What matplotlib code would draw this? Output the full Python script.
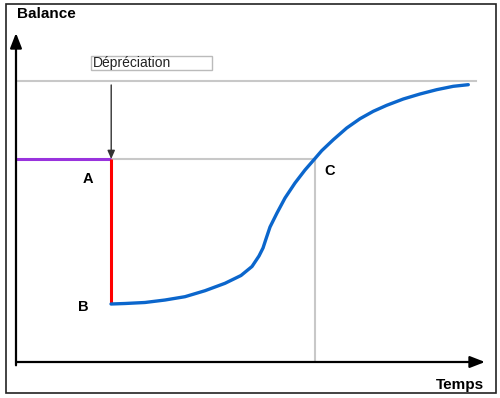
import matplotlib
matplotlib.use("Agg")
import matplotlib.pyplot as plt
from matplotlib.patches import Rectangle

plt.rcParams['font.family'] = ['Liberation Sans', 'DejaVu Sans']

# Data (time 0-100, balance 0-100)
t_shock = 20.3          # moment of depreciation (A/B)
level_A = 61.7          # initial balance
level_B = 17.6          # balance right after depreciation
level_top = 85.4        # long-run balance level
t_top_end = 98.1
t_C = 63.8              # time when balance returns to A level

curve_t = [20.26, 23.24, 27.51, 31.77, 36.03, 40.30, 44.56, 47.97, 50.32, 51.81,
           52.67, 53.30, 54.16, 55.65, 57.36, 59.49, 61.62, 63.75, 65.18, 67.66,
           70.51, 73.35, 76.18, 79.04, 82.58, 86.14, 89.70, 93.24, 96.44]
curve_b = [17.63, 17.78, 18.09, 18.84, 19.85, 21.67, 23.92, 26.29, 29.03, 32.22,
           34.65, 37.39, 41.03, 45.29, 49.85, 54.41, 58.36, 61.85, 64.22, 67.57,
           71.12, 73.95, 76.20, 78.02, 79.94, 81.46, 82.77, 83.80, 84.29]

labels = {"A": (15.3, 55.5), "B": (14.4, 16.7), "C": (66.8, 58.0)}

fig = plt.figure(figsize=(5.0, 3.98), dpi=100)
W, H = 500, 398

# outer frame
fig.patches.append(Rectangle((5.5 / W, 1 - 393 / H), (495.5 - 5.5) / W, (393 - 4) / H,
                             transform=fig.transFigure, fill=False,
                             edgecolor='#222222', linewidth=1.2))

ax = fig.add_axes([16 / W, 1 - 362 / H, (485 - 16) / W, (362 - 33) / H])
ax.set_xlim(0, 100)
ax.set_ylim(0, 100)
ax.axis('off')

gray = '#c8c8c8'
# reference lines
ax.plot([0, t_top_end], [level_top, level_top], color=gray, lw=1.5, zorder=1)
ax.plot([t_shock, t_C], [level_A, level_A], color=gray, lw=1.5, zorder=1)
ax.plot([t_C, t_C], [level_A, 0], color=gray, lw=1.5, zorder=1)

# purple initial level
ax.plot([0, t_shock], [level_A, level_A], color='#9933dd', lw=2.2, zorder=3,
        solid_capstyle='butt')
# red drop
ax.plot([t_shock, t_shock], [level_A, level_B], color='#ff0000', lw=2.2, zorder=3,
        solid_capstyle='butt')
# blue J-curve
ax.plot(curve_t, curve_b, color='#0b66cc', lw=2.4, zorder=4,
        solid_capstyle='round', solid_joinstyle='round')

# axes arrows
ax.annotate('', xy=(0, 100), xytext=(0, -1), xycoords='data',
            arrowprops=dict(arrowstyle='-|>,head_length=0.9,head_width=0.35',
                            color='black', lw=1.6, shrinkA=0, shrinkB=0),
            annotation_clip=False)
ax.annotate('', xy=(100, 0), xytext=(0, 0), xycoords='data',
            arrowprops=dict(arrowstyle='-|>,head_length=0.9,head_width=0.35',
                            color='black', lw=1.6, shrinkA=0, shrinkB=0),
            annotation_clip=False)

# depreciation arrow
ax.annotate('', xy=(t_shock, level_A), xytext=(t_shock, 84.2),
            arrowprops=dict(arrowstyle='-|>,head_length=0.5,head_width=0.22',
                            color='#333333', lw=1.0, shrinkA=0, shrinkB=0))

# text box
fig.patches.append(Rectangle((91 / W, 1 - 70 / H), (212 - 91) / W, (70 - 56) / H,
                             transform=fig.transFigure, fill=False,
                             edgecolor='#bbbbbb', linewidth=1.0))
fig.text(92.5 / W, 1 - 63 / H, 'Dépréciation', fontsize=10, va='center', ha='left',
         color='#222222')

for k, (x, y) in labels.items():
    ax.text(x, y, k, fontsize=10.5, fontweight='bold', ha='center', va='center')

fig.text(17 / W, 1 - 14 / H, 'Balance', fontsize=11, fontweight='bold',
         ha='left', va='center')
fig.text(484 / W, 1 - 385 / H, 'Temps', fontsize=11, fontweight='bold',
         ha='right', va='center')

fig.savefig('out.png', dpi=100)
